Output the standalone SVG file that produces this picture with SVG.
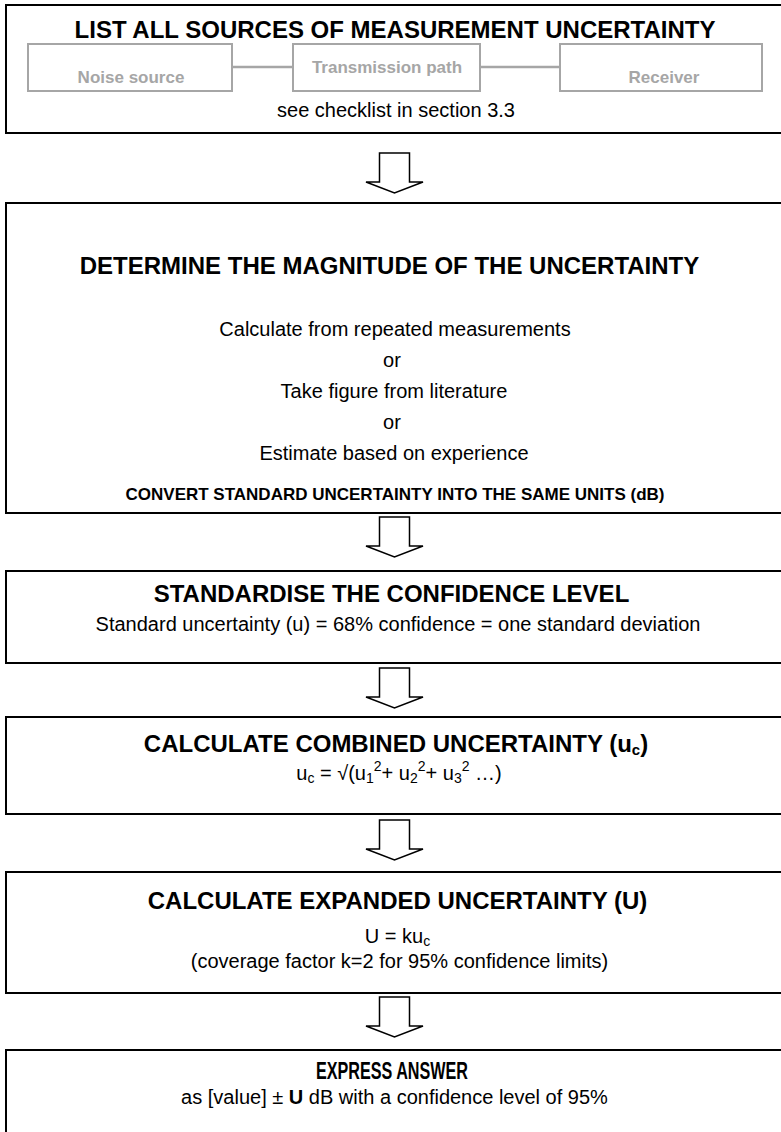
<svg xmlns="http://www.w3.org/2000/svg" width="781" height="1132" viewBox="0 0 781 1132">
<style>
.box{fill:#fff;stroke:#000;stroke-width:2}
.sub{fill:#fff;stroke:#a6a6a6;stroke-width:2}
.arrow{fill:#fff;stroke:#000;stroke-width:1.5;stroke-linejoin:miter}
text{font-family:"Liberation Sans",Arial,sans-serif;text-anchor:middle;fill:#000}
.t{font-weight:bold;font-size:24px}
.b{font-size:20px}
.g{font-weight:bold;font-size:17px;fill:#a6a6a6}
.s{font-weight:bold;font-size:17px}
.link{stroke:#a6a6a6;stroke-width:2.5}
</style>
<rect width="781" height="1132" fill="#fff"/>
<g id="connectors">
<path class="arrow" d="M379.5,153 H409.5 V182 H423 L394.5,193 L366,182 H379.5 Z"/>
<path class="arrow" d="M379.5,517 H409.5 V546 H423 L394.5,557 L366,546 H379.5 Z"/>
<path class="arrow" d="M379.5,668 H409.5 V697 H423 L394.5,708 L366,697 H379.5 Z"/>
<path class="arrow" d="M379.5,820 H409.5 V849 H423 L394.5,860 L366,849 H379.5 Z"/>
<path class="arrow" d="M379.5,997 H409.5 V1026 H423 L394.5,1037 L366,1026 H379.5 Z"/>
</g>
<g id="n1">
<rect class="box" x="6" y="5" width="780" height="128"/>
<text class="t" x="395" y="38">LIST ALL SOURCES OF MEASUREMENT UNCERTAINTY</text>
<line class="link" x1="232" y1="67" x2="293" y2="67"/>
<line class="link" x1="480" y1="67" x2="560" y2="67"/>
<g id="n1a"><rect class="sub" x="28" y="44" width="204" height="47"/><text class="g" x="131" y="83">Noise source</text></g>
<g id="n1b"><rect class="sub" x="293" y="44" width="187" height="47"/><text class="g" x="387" y="73">Transmission path</text></g>
<g id="n1c"><rect class="sub" x="560" y="44" width="202" height="47"/><text class="g" x="664" y="83">Receiver</text></g>
<text class="b" x="396" y="117" font-size="24">see checklist in section 3.3</text>
</g>
<g id="n2">
<rect class="box" x="6" y="203" width="780" height="310"/>
<text class="t" x="389.5" y="274">DETERMINE THE MAGNITUDE OF THE UNCERTAINTY</text>
<text class="b" x="395" y="336">Calculate from repeated measurements</text>
<text class="b" x="392" y="367">or</text>
<text class="b" x="394" y="398">Take figure from literature</text>
<text class="b" x="392" y="429">or</text>
<text class="b" x="394" y="460">Estimate based on experience</text>
<text class="s" x="395" y="500">CONVERT STANDARD UNCERTAINTY INTO THE SAME UNITS (dB)</text>
</g>
<g id="n3">
<rect class="box" x="6" y="571" width="780" height="92"/>
<text class="t" x="391.5" y="602">STANDARDISE THE CONFIDENCE LEVEL</text>
<text class="b" x="398" y="631" font-size="24">Standard uncertainty (u) = 68% confidence = one standard deviation</text>
</g>
<g id="n4">
<rect class="box" x="6" y="717" width="780" height="97"/>
<text class="t" x="396" y="752">CALCULATE COMBINED UNCERTAINTY (u<tspan font-size="15" dy="3">c</tspan><tspan dy="-3">)</tspan></text>
<text class="b" x="399" y="780">u<tspan font-size="14" dy="3">c</tspan><tspan dy="-3"> = √(u</tspan><tspan font-size="14" dy="3">1</tspan><tspan font-size="14" dy="-12">2</tspan><tspan dy="9">+ u</tspan><tspan font-size="14" dy="3">2</tspan><tspan font-size="14" dy="-12">2</tspan><tspan dy="9">+ u</tspan><tspan font-size="14" dy="3">3</tspan><tspan font-size="14" dy="-12">2</tspan><tspan dy="9"> …)</tspan></text>
</g>
<g id="n5">
<rect class="box" x="6" y="872" width="780" height="121"/>
<text class="t" x="397.5" y="909">CALCULATE EXPANDED UNCERTAINTY (U)</text>
<text class="b" x="397.5" y="943">U = ku<tspan font-size="14" dy="3">c</tspan></text>
<text class="b" x="399.5" y="968">(coverage factor k=2 for 95% confidence limits)</text>
</g>
<g id="n6">
<rect class="box" x="6" y="1050" width="780" height="100"/>
<text class="t" x="392" y="1079" font-size="21" textLength="152" lengthAdjust="spacingAndGlyphs">EXPRESS ANSWER</text>
<text class="b" x="394.5" y="1104" font-size="17">as [value] ± <tspan font-weight="bold">U</tspan> dB with a confidence level of 95%</text>
</g>
</svg>
